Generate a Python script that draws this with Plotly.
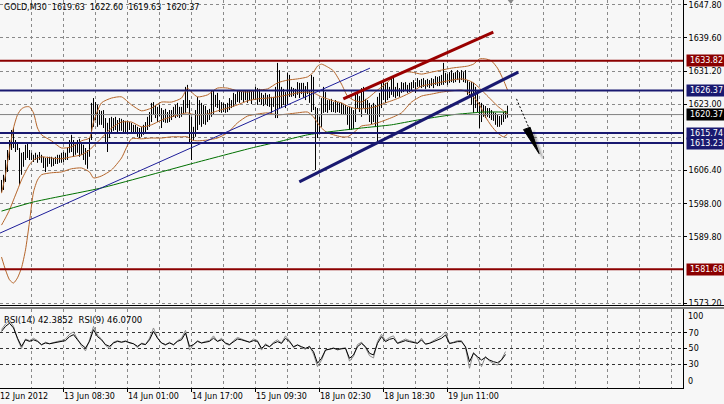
import plotly.graph_objects as go

# ---------------- data ----------------
header_text = "GOLD,M30  1619.63  1622.60  1619.63  1620.37"
rsi_text = "RSI(14) 42.3852  RSI(9) 46.0700"

bar_high = [
    1604.0, 1605.3, 1609.0, 1611.5, 1614.0, 1616.5, 1617.0, 1614.0, 1613.5, 1612.0,
    1610.8, 1611.0, 1612.8, 1613.3, 1611.5, 1610.8, 1610.3, 1610.8, 1610.3, 1611.0,
    1610.3, 1609.8, 1609.5, 1609.8, 1609.8, 1609.8, 1609.5, 1609.8, 1610.3, 1610.3,
    1610.8, 1611.0, 1610.8, 1612.0, 1614.0, 1615.3, 1614.0, 1613.3, 1614.0, 1614.3,
    1613.5, 1612.8, 1612.0, 1611.5, 1614.5, 1623.3, 1624.5, 1623.5, 1622.8, 1621.5,
    1621.3, 1621.5, 1619.5, 1618.3, 1619.5, 1619.8, 1619.5, 1619.8, 1619.0, 1619.5,
    1619.3, 1619.0, 1618.8, 1618.8, 1618.5, 1618.3, 1617.8, 1617.8, 1617.3, 1617.0,
    1617.3, 1617.8, 1618.5, 1619.8, 1621.0, 1623.3, 1623.5, 1622.8, 1622.3, 1622.8,
    1622.0, 1621.5, 1621.8, 1621.0, 1621.5, 1621.5, 1622.3, 1622.8, 1623.3, 1622.3,
    1622.3, 1624.0, 1627.3, 1627.8, 1624.0, 1619.8, 1617.3, 1621.5, 1624.8, 1624.0,
    1623.3, 1622.8, 1622.5, 1621.5, 1621.8, 1626.5, 1626.3, 1625.3, 1625.8, 1624.0,
    1623.5, 1623.3, 1623.0, 1623.3, 1624.5, 1624.0, 1625.8, 1625.5, 1626.5, 1626.3,
    1626.3, 1626.5, 1626.3, 1626.3, 1626.5, 1626.3, 1626.5, 1627.3, 1627.0, 1626.8,
    1625.8, 1625.3, 1625.8, 1625.3, 1625.5, 1624.8, 1624.8, 1627.3, 1633.3, 1631.5,
    1627.3, 1626.8, 1626.0, 1630.8, 1630.3, 1627.3, 1627.0, 1626.8, 1628.5, 1628.3,
    1628.3, 1628.3, 1627.5, 1628.5, 1626.5, 1630.3, 1629.8, 1622.3, 1622.0, 1619.8,
    1624.5, 1627.3, 1626.0, 1624.0, 1624.0, 1624.3, 1623.5, 1624.0, 1623.5, 1623.3,
    1623.3, 1622.8, 1622.8, 1622.3, 1622.3, 1622.0, 1621.5, 1625.8, 1625.8, 1625.0,
    1627.0, 1627.3, 1624.3, 1624.0, 1623.3, 1622.8, 1623.3, 1622.8, 1624.8, 1625.8,
    1628.5, 1629.0, 1628.3, 1628.5, 1627.3, 1629.5, 1629.8, 1627.3, 1628.3, 1627.0,
    1628.5, 1628.3, 1628.5, 1627.8, 1628.3, 1628.5, 1629.0, 1628.5, 1629.5, 1629.0,
    1629.3, 1629.5, 1629.0, 1629.3, 1629.0, 1629.5, 1629.3, 1630.0, 1629.8, 1630.0,
    1630.3, 1633.3, 1630.8, 1630.5, 1631.0, 1631.5, 1630.8, 1631.0, 1631.5, 1631.0,
    1631.5, 1631.0, 1631.5, 1629.0, 1628.5, 1628.5, 1628.3, 1627.3, 1625.8, 1623.5,
    1623.3, 1622.8, 1622.5, 1622.0, 1622.0, 1621.5, 1621.0, 1620.8, 1620.3, 1620.0,
    1620.3, 1621.0, 1621.3, 1622.6,
]
bar_low = [
    1601.0, 1601.5, 1603.5, 1606.0, 1609.0, 1611.5, 1612.0, 1611.0, 1611.5, 1602.8,
    1605.3, 1607.3, 1609.0, 1609.5, 1609.0, 1609.0, 1608.5, 1609.0, 1608.3, 1609.0,
    1608.3, 1607.0, 1606.0, 1607.3, 1608.0, 1607.3, 1607.5, 1608.0, 1608.0, 1608.3,
    1608.3, 1608.5, 1609.0, 1609.0, 1610.8, 1611.0, 1609.8, 1610.3, 1610.8, 1609.8,
    1610.3, 1609.0, 1607.8, 1606.8, 1609.8, 1614.0, 1617.3, 1619.0, 1617.3, 1617.8,
    1617.8, 1617.0, 1613.3, 1611.0, 1614.5, 1615.8, 1616.3, 1616.5, 1616.0, 1616.3,
    1616.3, 1616.0, 1615.8, 1616.0, 1616.5, 1616.0, 1615.8, 1615.5, 1614.8, 1614.5,
    1614.8, 1615.3, 1616.0, 1616.5, 1617.3, 1618.5, 1620.3, 1619.5, 1618.5, 1620.0,
    1617.0, 1618.5, 1618.3, 1618.3, 1618.5, 1619.0, 1619.8, 1619.5, 1619.8, 1619.5,
    1619.8, 1620.3, 1620.8, 1622.0, 1613.3, 1609.0, 1614.0, 1614.8, 1616.5, 1617.8,
    1617.3, 1618.0, 1617.8, 1618.5, 1619.0, 1619.8, 1620.3, 1622.3, 1622.0, 1621.0,
    1620.8, 1621.0, 1620.8, 1621.0, 1621.5, 1622.0, 1622.3, 1623.0, 1623.5, 1623.3,
    1624.0, 1623.5, 1624.0, 1623.3, 1624.0, 1623.0, 1624.0, 1624.0, 1622.8, 1623.5,
    1622.8, 1622.5, 1623.0, 1622.5, 1622.3, 1620.8, 1622.3, 1619.5, 1619.5, 1622.0,
    1622.0, 1622.8, 1622.0, 1622.8, 1624.8, 1624.8, 1625.0, 1624.5, 1625.3, 1624.5,
    1625.5, 1624.5, 1624.0, 1625.5, 1623.3, 1621.0, 1621.5, 1606.5, 1614.5, 1615.8,
    1617.3, 1620.8, 1621.0, 1620.8, 1621.5, 1621.0, 1621.0, 1620.8, 1621.0, 1620.8,
    1620.5, 1620.5, 1620.3, 1617.8, 1616.5, 1616.5, 1616.8, 1618.5, 1622.0, 1621.0,
    1619.8, 1622.0, 1620.8, 1620.3, 1618.5, 1618.0, 1618.5, 1617.3, 1613.3, 1619.8,
    1622.0, 1624.0, 1623.3, 1624.0, 1624.5, 1625.3, 1624.8, 1624.5, 1625.0, 1624.8,
    1625.8, 1626.0, 1626.5, 1625.8, 1626.0, 1626.5, 1627.0, 1625.8, 1627.3, 1627.3,
    1627.0, 1627.3, 1626.8, 1627.3, 1627.0, 1627.5, 1627.0, 1627.8, 1627.5, 1627.5,
    1627.8, 1627.8, 1628.3, 1627.8, 1628.3, 1628.5, 1628.3, 1628.5, 1629.0, 1628.3,
    1629.0, 1628.5, 1628.3, 1625.3, 1624.8, 1622.8, 1620.8, 1622.0, 1621.0, 1617.0,
    1618.5, 1619.8, 1619.5, 1619.8, 1619.5, 1619.0, 1618.8, 1617.8, 1617.3, 1617.3,
    1617.8, 1618.5, 1619.3, 1619.6,
]

# Bollinger bands, estimated at selected bars
bb_bar = [0, 2, 4, 6, 8, 10, 12, 14, 16, 18, 20, 25, 30, 35, 40, 44, 46, 50, 55, 60,
          65, 70, 75, 80, 85, 90, 93, 95, 98, 103, 108, 113, 118, 123, 128, 133, 138,
          143, 148, 153, 156, 158, 160, 163, 166, 170, 173, 176, 180, 184, 188, 192,
          196, 200, 205, 210, 215, 220, 225, 230, 233, 236, 239, 242, 245, 248, 251, 253]
bb_upper = [1600.7, 1605.3, 1611.5, 1617.0, 1620.3, 1621.8, 1622.3, 1622.3, 1620.8, 1617.0,
            1615.3, 1613.8, 1612.0, 1612.3, 1613.8, 1614.5, 1618.5, 1623.3, 1624.5, 1624.8,
            1622.8, 1621.3, 1622.0, 1623.5, 1623.5, 1624.5, 1627.0, 1626.0, 1624.8, 1625.3,
            1627.0, 1627.0, 1626.3, 1626.0, 1626.5, 1626.8, 1628.3, 1629.0, 1629.3, 1629.8,
            1631.0, 1632.5, 1633.0, 1632.3, 1631.3, 1628.0, 1625.0, 1624.0, 1623.5, 1624.8,
            1626.5, 1628.0, 1629.8, 1631.0, 1631.0, 1630.5, 1631.0, 1631.5, 1632.0, 1632.3,
            1632.5, 1633.0, 1634.3, 1634.3, 1633.8, 1632.0, 1629.0, 1626.5]
bb_middle = [1592.7, 1594.5, 1596.5, 1599.0, 1601.5, 1604.0, 1606.0, 1607.8, 1609.0, 1609.5,
             1609.8, 1609.5, 1609.3, 1609.8, 1610.3, 1611.5, 1612.5, 1614.5, 1617.0, 1618.5,
             1618.5, 1617.3, 1617.8, 1619.0, 1619.8, 1620.5, 1620.8, 1620.5, 1620.3, 1620.5,
             1621.3, 1622.0, 1622.8, 1623.8, 1624.3, 1624.5, 1624.8, 1625.3, 1625.8, 1626.0,
             1625.8, 1625.3, 1624.8, 1624.3, 1623.8, 1623.3, 1622.5, 1622.0, 1621.8, 1622.0,
             1622.5, 1623.3, 1624.0, 1624.8, 1626.0, 1627.5, 1628.0, 1628.5, 1629.0, 1629.3,
             1629.0, 1628.3, 1627.0, 1625.5, 1624.0, 1622.5, 1621.3, 1620.5]
bb_lower = [1584.7, 1581.5, 1579.0, 1578.2, 1579.5, 1582.0, 1586.5, 1593.5, 1601.0, 1604.0,
            1605.3, 1605.8, 1606.0, 1606.8, 1607.0, 1606.0, 1604.5, 1605.0, 1606.5, 1609.5,
            1614.3, 1614.3, 1614.5, 1614.5, 1614.8, 1614.8, 1614.8, 1614.0, 1613.8, 1614.0,
            1614.5, 1615.8, 1618.3, 1620.0, 1620.5, 1620.8, 1620.3, 1620.5, 1620.8, 1621.0,
            1619.8, 1618.3, 1617.0, 1615.8, 1615.3, 1614.8, 1614.8, 1615.8, 1617.5, 1617.8,
            1618.3, 1619.0, 1619.8, 1620.8, 1623.5, 1625.0, 1625.5, 1626.0, 1626.3, 1626.5,
            1626.0, 1624.8, 1622.8, 1619.8, 1617.5, 1615.8, 1614.8, 1615.5]

ma_bar = [0, 16, 50, 96, 125, 138, 153, 163, 180, 195, 208, 225, 241, 253]
ma_value = [1596.2, 1598.5, 1602.0, 1608.2, 1612.0, 1613.5, 1615.3, 1616.0, 1617.0,
            1617.8, 1619.0, 1620.3, 1621.0, 1621.0]

# RSI values every second bar
rsi14 = [71.7, 78, 82, 76, 63, 52.7, 61, 59, 61, 59, 55, 57, 56, 57, 58, 59, 60, 65, 67.5, 61,
         55, 50.6, 59, 73.8, 65, 61, 55, 52.7, 57, 59, 58, 59, 57, 56, 52.7, 56, 55, 61, 71.7, 63,
         57, 55, 57, 55, 59, 61, 69.6, 52.7, 55, 59, 57, 58, 59, 63, 59, 61, 57, 55, 59, 62,
         61, 59, 58, 60, 59,
         50.2, 54.4, 52.3, 56.5, 58.7, 56.5, 62.9, 58.7, 52.3, 54.4, 52.3, 50.2, 52.3, 46, 31.3,
         37.6, 48.1, 49, 50.2, 49, 49.8, 50.2, 37.6, 41.8, 52.3,
         56.5, 52.3, 44, 41.8, 56.5, 65, 58.7, 61.6, 62.9, 56.5, 58.7, 60, 58.7, 57.4, 56.5,
         60.8, 55.7, 56.5, 58.7, 60, 62.9, 67.1, 56.5, 57.4, 58.7, 58.7, 52.3, 33.3, 44, 39.7,
         35.4, 38.8, 35.4, 33.3, 32, 35.4, 42.4]
rsi9 = [74, 81, 86, 78, 62, 50, 62, 60, 63, 60, 54, 58, 56, 58, 59, 60, 62, 68, 71, 62,
        53, 47, 61, 78, 67, 62, 54, 50, 58, 60, 58, 60, 57, 56, 51, 57, 55, 63, 76, 64,
        57, 54, 58, 54, 60, 63, 73, 48, 55, 60, 57, 59, 60, 66, 59, 63, 56, 54, 60, 64,
        62, 59, 58, 62, 60,
        48, 56, 52, 58, 61, 57, 66, 60, 51, 55, 51, 49, 53, 43, 27, 35, 48, 49, 51, 48,
        50, 51, 34, 40, 55,
        58, 51, 41, 38, 59, 68, 60, 64, 66, 57, 60, 62, 60, 58, 57, 63, 55, 57, 60, 62,
        66, 71, 56, 58, 60, 60, 51, 25, 45, 38, 27, 40, 34, 31, 29, 36, 46.1]

level_prices = [1633.82, 1626.37, 1615.74, 1613.23, 1581.68]
level_kinds = ["red", "blue", "blue", "blue", "red"]
bid_price = 1620.37

price_ticks = [1647.80, 1639.60, 1631.20, 1623.00, 1606.40, 1598.00, 1589.80, 1573.20]
price_hidden_grid = [1614.60, 1581.50]
rsi_levels = [70, 50, 30]

time_labels = ["12 Jun 2012", "13 Jun 08:30", "14 Jun 01:00", "14 Jun 17:00",
               "15 Jun 09:30", "18 Jun 02:30", "18 Jun 18:30", "19 Jun 11:00"]
time_label_bar = [-0.75, 31, 63, 95, 127, 159, 191, 223]
grid_bar = [15 + 16 * k for k in range(21)]

trend_thin_bar, trend_thin_price = [-0.75, 184.25], [1590.7, 1632.0]
trend_blue_bar, trend_blue_price = [148.9, 258.4], [1603.5, 1631.0]
trend_red_bar, trend_red_price = [170.9, 245.9], [1624.3, 1641.0]
arrow_line_bar, arrow_line_price = [257.5, 263.5], [1624.3, 1617.3]
arrow_head_bar, arrow_head_price = [261.0, 264.3, 268.8], [1616.6, 1617.2, 1610.6]
shift_marker_bar = 254.6

# ---------------- styles ----------------
FONT = "DejaVu Sans"
BG = "#f7f7f7"
GRID = "#8a8a8a"
RED = "#8b0000"
NAVY = "#191970"
BROWN = "#b5652a"
kind_color = {"red": RED, "blue": NAVY}

fig = go.Figure()

# OHLC bars drawn as high-low sticks
bx, by = [], []
for i, (h, l) in enumerate(zip(bar_high, bar_low)):
    bx += [i, i, None]
    by += [l, h, None]
fig.add_trace(go.Scatter(x=bx, y=by, mode="lines", line=dict(color="black", width=1),
                         xaxis="x", yaxis="y", hoverinfo="skip"))

for band in (bb_upper, bb_middle, bb_lower):
    fig.add_trace(go.Scatter(x=bb_bar, y=band, mode="lines",
                             line=dict(color=BROWN, width=1, shape="spline", smoothing=0.6),
                             xaxis="x", yaxis="y", hoverinfo="skip"))

fig.add_trace(go.Scatter(x=ma_bar, y=ma_value, mode="lines",
                         line=dict(color="#007000", width=1, shape="spline", smoothing=0.4),
                         xaxis="x", yaxis="y", hoverinfo="skip"))

rsi_bar = list(range(0, 2 * len(rsi14), 2))
fig.add_trace(go.Scatter(x=rsi_bar, y=rsi9, mode="lines", line=dict(color="#8c8c8c", width=1),
                         xaxis="x2", yaxis="y2", hoverinfo="skip"))
fig.add_trace(go.Scatter(x=rsi_bar, y=rsi14, mode="lines", line=dict(color="black", width=1),
                         xaxis="x2", yaxis="y2", hoverinfo="skip"))

shapes = []
# bid line
shapes.append(dict(type="line", xref="paper", yref="y", x0=0, x1=1, y0=bid_price, y1=bid_price,
                   line=dict(color="#808080", width=1), layer="above"))
# horizontal levels
for p, k in zip(level_prices, level_kinds):
    shapes.append(dict(type="line", xref="paper", yref="y", x0=0, x1=1, y0=p, y1=p,
                       line=dict(color=kind_color[k], width=2), layer="above"))
# trend lines
shapes.append(dict(type="line", xref="x", yref="y", x0=trend_thin_bar[0], x1=trend_thin_bar[1],
                   y0=trend_thin_price[0], y1=trend_thin_price[1],
                   line=dict(color="#1e1e9a", width=1), layer="above"))
shapes.append(dict(type="line", xref="x", yref="y", x0=trend_blue_bar[0], x1=trend_blue_bar[1],
                   y0=trend_blue_price[0], y1=trend_blue_price[1],
                   line=dict(color=NAVY, width=3), layer="above"))
shapes.append(dict(type="line", xref="x", yref="y", x0=trend_red_bar[0], x1=trend_red_bar[1],
                   y0=trend_red_price[0], y1=trend_red_price[1],
                   line=dict(color="#9a0000", width=3), layer="above"))
# arrow
shapes.append(dict(type="line", xref="x", yref="y", x0=arrow_line_bar[0], x1=arrow_line_bar[1],
                   y0=arrow_line_price[0], y1=arrow_line_price[1],
                   line=dict(color="black", width=1, dash="2px,2px"), layer="above"))
sh = "M " + " L ".join(f"{b + 2.0},{p - 1.2}" for b, p in zip(arrow_head_bar, arrow_head_price)) + " Z"
shapes.append(dict(type="path", xref="x", yref="y", path=sh, fillcolor="rgba(0,0,0,0.18)",
                   line=dict(color="rgba(0,0,0,0.10)", width=3), layer="above"))
hp = "M " + " L ".join(f"{b},{p}" for b, p in zip(arrow_head_bar, arrow_head_price)) + " Z"
shapes.append(dict(type="path", xref="x", yref="y", path=hp, fillcolor="black",
                   line=dict(color="black", width=1), layer="above"))
# chart-shift marker
tp = f"M {shift_marker_bar - 1.5},1649.05 L {shift_marker_bar + 1.5},1649.05 L {shift_marker_bar},1648.1 Z"
shapes.append(dict(type="path", xref="x", yref="y", path=tp, fillcolor="#888888",
                   line=dict(color="#888888", width=0), layer="above"))
# pane separator
for yp in (305.5, 308.0):
    shapes.append(dict(type="line", xref="paper", yref="paper", x0=0, x1=724 / 683,
                       y0=(388 - yp) / 388, y1=(388 - yp) / 388,
                       line=dict(color="black", width=1), layer="above"))
# time ticks
for b in time_label_bar[1:]:
    shapes.append(dict(type="line", xref="x2", yref="paper", x0=b, x1=b, y0=0, y1=-4 / 388,
                       line=dict(color="black", width=1)))

annotations = []
annotations.append(dict(text=header_text, xref="paper", yref="paper", x=0, y=1, xanchor="left",
                        yanchor="top", xshift=2, yshift=-1, showarrow=False,
                        font=dict(family=FONT, size=8, color="black")))
annotations.append(dict(text=rsi_text, xref="paper", yref="paper", x=0, y=79 / 388,
                        xanchor="left", yanchor="top", xshift=2, yshift=-4, showarrow=False,
                        font=dict(family=FONT, size=8.5, color="black")))
for t, b in zip(time_labels, time_label_bar):
    annotations.append(dict(text=t, xref="x2", yref="paper", x=b, y=0, xanchor="left",
                            yanchor="top", yshift=-2, xshift=-2, showarrow=False,
                            font=dict(family=FONT, size=8, color="black")))
# coloured price tags
tags = [(p, kind_color[k]) for p, k in zip(level_prices, level_kinds)] + [(bid_price, "black")]
for p, c in tags:
    annotations.append(dict(text=f"{p:.2f}", xref="paper", yref="y", x=1, y=p, xanchor="left",
                            yanchor="middle", xshift=3, showarrow=False, bgcolor=c,
                            width=37, height=9, borderpad=1, align="center",
                            font=dict(family=FONT, size=8, color="white")))
for val, ys in ((100, -7), (0, 7)):
    annotations.append(dict(text=str(val), xref="paper", yref="y2", x=1, y=val, xanchor="left",
                            yanchor="middle", xshift=3, yshift=ys, showarrow=False,
                            font=dict(family=FONT, size=8, color="black")))

grid_style = dict(showgrid=True, gridcolor=GRID, gridwidth=1, griddash="3px,3px")
xr = [-0.75, 340.75]

fig.update_layout(
    width=724, height=404,
    margin=dict(l=0, r=41, t=0, b=16),
    paper_bgcolor=BG, plot_bgcolor=BG,
    showlegend=False, hovermode=False,
    shapes=shapes, annotations=annotations,
    xaxis=dict(domain=[0, 1], range=xr, anchor="y", tickvals=grid_bar, showticklabels=False,
               ticks="", zeroline=False, showline=False, **grid_style),
    xaxis2=dict(domain=[0, 1], range=xr, anchor="y2", matches="x", tickvals=grid_bar,
                showticklabels=False, ticks="", zeroline=False, showline=True,
                linecolor="black", linewidth=1, **grid_style),
    yaxis=dict(domain=[(388 - 305) / 388, 1], range=[1572.7, 1649.05], anchor="x", side="right",
               tickvals=price_ticks, ticktext=[f"{v:.2f}" for v in price_ticks],
               ticks="outside", ticklen=3, tickcolor="black", showline=True, linecolor="black",
               linewidth=1, zeroline=False,
               tickfont=dict(family=FONT, size=8, color="black"),
               minor=dict(tickvals=price_hidden_grid, showgrid=True, gridcolor=GRID,
                          griddash="3px,3px", ticks=""),
               **grid_style),
    yaxis2=dict(domain=[0, 79 / 388], range=[0, 100], anchor="x2", side="right",
                tickvals=rsi_levels, ticktext=[str(v) for v in rsi_levels],
                ticks="outside", ticklen=3, tickcolor="black", showline=True, linecolor="black",
                linewidth=1, zeroline=False,
                tickfont=dict(family=FONT, size=8, color="black"),
                showgrid=True, gridcolor="#333333", gridwidth=1, griddash="3px,3px"),
)

fig.write_html(
    "out.html",
    config={"displayModeBar": False},
    post_script="document.body.style.margin='0';document.body.style.overflow='hidden';"
                "document.body.style.background='" + BG + "';",
)
